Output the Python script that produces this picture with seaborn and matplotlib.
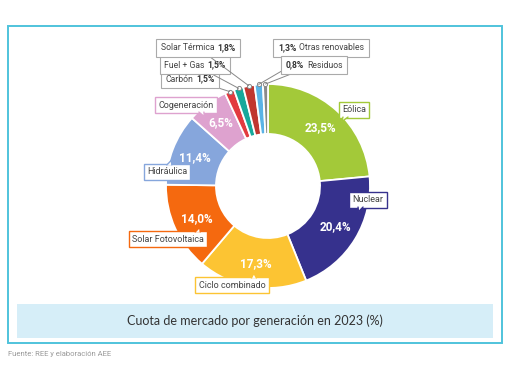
import matplotlib
matplotlib.use("Agg")
import matplotlib.pyplot as plt
from matplotlib.patches import Rectangle, Polygon
from matplotlib.offsetbox import TextArea, HPacker, AnnotationBbox
import seaborn as sns
import numpy as np

sns.set_theme(style="white")
plt.rcParams['font.family'] = ['Roboto', 'DejaVu Sans']

# Datos: cuota de mercado por generacion 2023 (%)
fuentes = ['Eólica', 'Nuclear', 'Ciclo combinado', 'Solar Fotovoltaica', 'Hidráulica',
           'Cogeneración', 'Carbón', 'Fuel + Gas', 'Solar Térmica', 'Otras renovables', 'Residuos']
cuotas = [23.5, 20.4, 17.3, 14.0, 11.4, 6.5, 1.5, 1.5, 1.8, 1.3, 0.8]
colores = ['#a3c939', '#36318d', '#fcc433', '#f5690f', '#86a6dc', '#dea2cf',
           '#e23b3f', '#17a89b', '#c0362f', '#5ab3e6', '#8a8a8a']

def fmt(v):
    return ('%.1f' % v).replace('.', ',') + '%'

fig = plt.figure(figsize=(5.1, 3.82), dpi=100)
bg = fig.add_axes([0, 0, 1, 1])
bg.set_xlim(0, 510)
bg.set_ylim(382, 0)
bg.axis('off')

# marco y banda del titulo
bg.add_patch(Rectangle((8, 26), 494, 317, fill=False, ec='#4fc3dc', lw=1.4))
bg.add_patch(Rectangle((17, 304), 476, 34, fc='#d6eef8', ec='none'))
bg.text(255, 321, 'Cuota de mercado por generación en 2023 (%)', ha='center', va='center',
        fontsize=9, color='#333333', family=['Lato', 'DejaVu Sans'])
bg.text(8, 354, 'Fuente: REE y elaboración AEE', ha='left', va='center', fontsize=5.5, color='#999999')

# donut
cx, cy, r = 268, 186, 102
ax = fig.add_axes([(cx - r) / 510, 1 - (cy + r) / 382, 2 * r / 510, 2 * r / 382])
wedges, _, autotexts = ax.pie(cuotas, colors=colores, startangle=90, counterclock=False,
                              radius=1, pctdistance=0.77,
                              autopct=lambda p: fmt(p) if p > 5 else '',
                              wedgeprops=dict(width=0.49, edgecolor='white', linewidth=1.3))
for t in autotexts:
    t.set_color('white')
    t.set_fontsize(8.5)
    t.set_fontweight('bold')
ax.set_xlim(-1, 1)
ax.set_ylim(-1, 1)
ax.set_aspect('equal')
ax.axis('off')

# capa superior para etiquetas
top = fig.add_axes([0, 0, 1, 1])
top.set_xlim(0, 510)
top.set_ylim(382, 0)
top.axis('off')
top.patch.set_alpha(0)

# etiquetas grandes (posicion de la caja en pixeles) y su "colita"
pos_grandes = {'Eólica': (354, 110), 'Nuclear': (368, 200), 'Ciclo combinado': (232, 285),
               'Solar Fotovoltaica': (168, 239), 'Hidráulica': (167, 172), 'Cogeneración': (186, 105)}
colitas = {'Eólica': ('bottom', 0.22, -4), 'Nuclear': ('bottom', 0.3, -2),
           'Ciclo combinado': ('top', 0.8, 0), 'Solar Fotovoltaica': ('top', 0.88, 2),
           'Hidráulica': ('top', 0.55, 2), 'Cogeneración': ('bottom', 0.75, 3)}
etiquetas = []
for i, f in enumerate(fuentes[:6]):
    x, y = pos_grandes[f]
    t = top.text(x, y, f, ha='center', va='center', fontsize=6.5, color='#444444',
                 bbox=dict(boxstyle='square,pad=0.35', fc='white', ec=colores[i], lw=1))
    etiquetas.append(t)

fig.canvas.draw()
for i, t in enumerate(etiquetas):
    bb = t.get_bbox_patch().get_window_extent()
    x0, x1 = bb.x0, bb.x1
    ytop, ybot = 382 - bb.y1, 382 - bb.y0
    lado, frac, dx = colitas[fuentes[i]]
    bx = x0 + frac * (x1 - x0)
    if lado == 'bottom':
        yb, tip = ybot - 0.6, ybot + 4
    else:
        yb, tip = ytop + 0.6, ytop - 4
    top.add_patch(Polygon([(bx - 2.5, yb), (bx + dx, tip), (bx + 2.5, yb)], closed=True,
                          fc='white', ec='none', zorder=4))
    top.plot([bx - 2.5, bx + dx, bx + 2.5], [yb, tip, yb], color=colores[i], lw=1, zorder=5,
             solid_joinstyle='miter')

# etiquetas pequenas con linea guia
pos_peq = {'Carbón': (190, 79), 'Fuel + Gas': (195, 65), 'Solar Térmica': (198, 48),
           'Otras renovables': (321, 48), 'Residuos': (314, 65)}
acum = np.cumsum([0] + cuotas)
for i in range(6, 11):
    f = fuentes[i]
    ang = np.deg2rad(90 - 360 * (acum[i] + cuotas[i] / 2) / 100)
    px, py = np.cos(ang), np.sin(ang)
    nombre = TextArea(f, textprops=dict(fontsize=6.2, color='#444444'))
    valor = TextArea(fmt(cuotas[i]), textprops=dict(fontsize=6.2, color='#333333', fontweight='bold'))
    partes = [nombre, valor] if i < 9 else [valor, nombre]
    caja = HPacker(children=partes, align='center', pad=0, sep=2)
    ab = AnnotationBbox(caja, (px, py), xycoords=ax.transData,
                        xybox=pos_peq[f], boxcoords=top.transData,
                        box_alignment=(0.5, 0.5), pad=0.3,
                        bboxprops=dict(boxstyle='square', fc='white', ec='#aaaaaa', lw=0.8),
                        arrowprops=dict(arrowstyle='-', color='#888888', lw=0.7, shrinkA=0, shrinkB=0))
    top.add_artist(ab)
    ax.plot(px, py, 'o', ms=3, mfc='white', mec='#888888', mew=0.7, zorder=5, clip_on=False)

fig.savefig('out.png', dpi=100, facecolor='white')
